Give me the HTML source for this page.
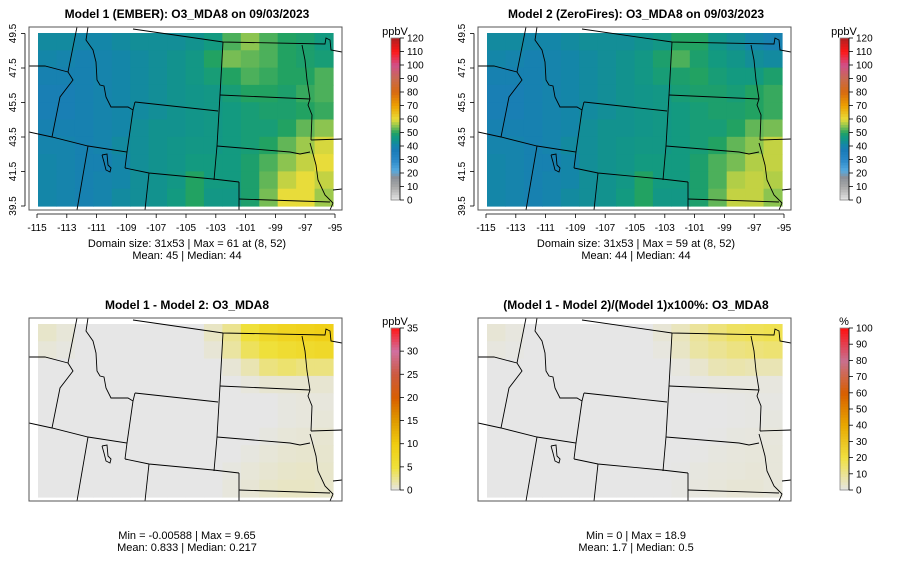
<!DOCTYPE html>
<html><head><meta charset="utf-8">
<style>
html,body{margin:0;padding:0;background:#fff;}
svg{display:block;font-family:"Liberation Sans",sans-serif;}
</style></head>
<body>
<svg id="fig" width="900" height="579" viewBox="0 0 900 579" xmlns="http://www.w3.org/2000/svg"></svg>
<script>
// ---- data (rows from north 49.5 to south 39.5, cols from -115 to -95) ----
const model1 = [
[42,42,41,41,42,43,43,43,44,47,52,55,52,50,49,47],
[41,40,39,40,41,42,43,44,46,50,54,53,52,50,49,48],
[39,39,39,40,41,42,43,44,46,48,50,52,51,50,50,52],
[38,38,39,40,41,42,43,44,45,46,48,50,50,49,51,52],
[38,38,39,40,41,42,43,44,45,46,47,48,49,49,50,51],
[39,39,39,40,41,43,44,44,45,46,47,48,48,50,53,55],
[40,40,39,40,42,43,44,45,46,46,47,48,50,53,56,59],
[41,40,39,39,41,43,44,45,47,47,47,49,52,55,58,60],
[41,40,39,40,41,43,44,46,50,47,47,49,53,58,60,58],
[41,40,39,40,42,43,44,47,50,46,46,49,54,60,60,56]];
const model2 = [
[42,42,41,41,42,43,43,43,44,46,50,50,45,43,41,39],
[41,40,39,40,41,42,43,44,46,49,52,49,47,45,43,42],
[39,39,39,40,41,42,43,44,46,48,49,50,48,47,47,49],
[38,38,39,40,41,42,43,44,45,46,48,49,49,48,50,51],
[38,38,39,40,41,42,43,44,45,46,47,48,49,49,50,51],
[39,39,39,40,41,43,44,44,45,46,47,48,48,50,53,54],
[40,40,39,40,42,43,44,45,46,46,47,48,50,53,55,58],
[41,40,39,39,41,43,44,45,47,47,47,49,52,54,57,58],
[41,40,39,40,41,43,44,46,50,47,47,49,52,57,58,57],
[41,40,39,40,42,43,44,47,50,46,46,49,53,58,58,55]];
const diffVals = [
[0.8,0.4,0,0,0,0,0,0,0,1,2.5,5,7,8,8.5,9],
[0.4,0.2,0,0,0,0,0,0,0,0.5,2,4,5,6,6.5,7],
[0,0,0,0,0,0,0,0,0,0,0.5,1.5,3,3.5,3,3],
[0,0,0,0,0,0,0,0,0,0,0,0.3,0.6,0.6,0.6,0.6],
[0,0,0,0,0,0,0,0,0,0,0,0,0,0.2,0.3,0.3],
[0,0,0,0,0,0,0,0,0,0,0,0,0,0.2,0.3,0.4],
[0,0,0,0,0,0,0,0,0,0,0,0,0.2,0.4,0.5,0.6],
[0,0,0,0,0,0,0,0,0,0,0,0.2,0.4,0.6,0.7,0.7],
[0,0,0,0,0,0,0,0,0,0,0.2,0.4,0.6,0.8,0.9,0.8],
[0,0,0,0,0,0,0,0,0,0,0.3,0.5,0.8,1,1,0.8]];
const pctVals = [
[2,1,0,0,0,0,0,0,0,2,5,9,13,16,17,18],
[1,0.5,0,0,0,0,0,0,0,1,4,8,10,12,13,14],
[0,0,0,0,0,0,0,0,0,0,1,3,6,7,6,6],
[0,0,0,0,0,0,0,0,0,0,0,0.5,1,1,1,1],
[0,0,0,0,0,0,0,0,0,0,0,0,0,0.3,0.5,0.5],
[0,0,0,0,0,0,0,0,0,0,0,0,0,0.3,0.5,0.8],
[0,0,0,0,0,0,0,0,0,0,0,0,0.3,0.8,1,1.2],
[0,0,0,0,0,0,0,0,0,0,0,0.3,0.8,1.2,1.5,1.5],
[0,0,0,0,0,0,0,0,0,0,0.3,0.8,1.2,1.5,1.8,1.5],
[0,0,0,0,0,0,0,0,0,0,0.5,1,1.5,2,2,1.5]];
const lonTicks = [-115,-113,-111,-109,-107,-105,-103,-101,-99,-97,-95];
const latTicks = [49.5,47.5,45.5,43.5,41.5,39.5];
const o3Ticks = [0,10,20,30,40,50,60,70,80,90,100,110,120];
const diffTicks = [0,5,10,15,20,25,30,35];
const pctTicks = [0,10,20,30,40,50,60,70,80,90,100];

const o3Stops=[[0,'#e6e6e6'],[10,'#a8a8a8'],[17,'#8a9098'],[22,'#55aae0'],[30,'#2a88c8'],[37,'#1a7cb8'],[41,'#1486a8'],[44,'#12928e'],[47,'#139a80'],[50,'#22a262'],[55,'#8cc450'],[60,'#e8dc3a'],[70,'#eea000'],[80,'#d86a10'],[90,'#c86a50'],[100,'#d0508a'],[110,'#ff1818'],[120,'#b02020']];
const diffStops=[[0,'#e6e6e6'],[5,'#efe03a'],[10,'#f0cc10'],[15,'#e09a00'],[20,'#d85e00'],[25,'#cc5a40'],[30,'#d070a0'],[35,'#ff1818']];
const pctStops=[[0,'#e6e6e6'],[20,'#f0e040'],[40,'#e8a800'],[60,'#d85e00'],[80,'#c87090'],[100,'#ff1010']];

const NS='http://www.w3.org/2000/svg';
const svg=document.getElementById('fig');
function mk(tag,attrs,parent){const e=document.createElementNS(NS,tag);for(const k in attrs)e.setAttribute(k,attrs[k]);(parent||svg).appendChild(e);return e;}
function hex(c){return [parseInt(c.substr(1,2),16),parseInt(c.substr(3,2),16),parseInt(c.substr(5,2),16)];}
function cmap(stops,v){
  if(v<=stops[0][0])return stops[0][1];
  for(let i=1;i<stops.length;i++){if(v<=stops[i][0]){const a=stops[i-1],b=stops[i];const t=(v-a[0])/(b[0]-a[0]);const A=hex(a[1]),B=hex(b[1]);return 'rgb('+A.map((x,j)=>Math.round(x+(B[j]-x)*t)).join(',')+')';}}
  return stops[stops.length-1][1];
}
const borders=[
[[133,29],[223,42],[325,44],[326,38],[330,40],[331,50],[342,52]],
[[77,27],[68,72],[73,80],[60,97],[52,137]],
[[29,66],[45,66],[68,72]],
[[88,27],[86,40],[93,50],[96,62],[97,80],[100,85],[104,86],[106,97],[111,107],[120,107],[128,107],[133,110]],
[[135,102],[133,110],[127,152]],
[[29,132],[52,137],[88,146],[127,152],[125,168]],
[[135,102],[218,111]],
[[125,168],[149,173],[213,179],[239,182]],
[[223,42],[220,95],[217,146],[214,180]],
[[88,146],[77,210]],[[149,173],[145,210]],[[239,182],[239,210]],
[[220,95],[310,99]],
[[302,45],[305,60],[307,80],[310,99]],
[[310,99],[308,105],[312,115],[311,140]],
[[311,140],[342,139]],
[[217,146],[290,152],[300,154],[310,152]],
[[310,143],[312,150],[316,165],[318,180],[325,195],[333,203],[330,210]],
[[239,199],[330,202]],
[[333,190],[342,189]],
[[102,155],[107,154],[108,165],[111,168],[110,172],[106,170],[104,162],[102,155]]];

let clipId=0;
function panel(dx,dy,grid,stops,title,axes,name){
  const g=mk('g',{transform:'translate('+dx+','+dy+')'});
  
  
  const t=mk('text',{x:187,y:18,'text-anchor':'middle','font-size':'12','font-weight':'bold',fill:'#000'},g);t.textContent=title;
  
  
  const x0=38,x1=333,y0=33,y1=206;
  const rows=grid.length,cols=grid[0].length;
  const cw=(x1-x0)/cols,ch=(y1-y0)/rows;
  grid.forEach((row,r)=>row.forEach((v,c)=>{
    const cell=mk('rect',{x:x0+c*cw,y:y0+r*ch,width:cw+0.6,height:ch+0.6,fill:cmap(stops,v)},g);
    
    
  }));
  const id='clip'+(clipId++);
  const cp=mk('clipPath',{id:id},g);mk('rect',{x:29,y:27,width:313,height:183},cp);
  const bg=mk('g',{'clip-path':'url(#'+id+')'},g);
  
  
  borders.forEach(b=>{mk('polyline',{points:b.map(p=>p.join(',')).join(' '),fill:'none',stroke:'#000','stroke-width':'0.9'},bg);});
  const box=mk('rect',{x:29,y:27,width:313,height:183,fill:'none',stroke:'#555','stroke-width':'1'},g);
  
  
  if(axes){
    const lx=v=>37+(v+115)*14.9, ly=v=>33.5+(49.5-v)*17.25;
    mk('line',{x1:lx(-115),x2:lx(-95),y1:214,y2:214,stroke:'#000','stroke-width':'0.8'},g);
    lonTicks.forEach(v=>{mk('line',{x1:lx(v),x2:lx(v),y1:214,y2:218,stroke:'#000','stroke-width':'0.8'},g);
      const tl=mk('text',{x:lx(v),y:231,'text-anchor':'middle','font-size':'10',fill:'#000'},g);tl.textContent=v;
      
      });
    mk('line',{x1:25,x2:25,y1:ly(49.5),y2:ly(39.5),stroke:'#000','stroke-width':'0.8'},g);
    latTicks.forEach(v=>{mk('line',{x1:21,x2:25,y1:ly(v),y2:ly(v),stroke:'#000','stroke-width':'0.8'},g);
      const tl=mk('text',{x:0,y:0,'text-anchor':'middle','font-size':'10',fill:'#000',transform:'translate(16,'+ly(v)+') rotate(-90)'},g);tl.textContent=v.toFixed(1);
      
      });
  }
  return g;
}
function colorbar(x,y0,y1,stops,ticks,unit,name){
  const g=mk('g',{});
  
  
  const max=ticks[ticks.length-1];const n=60;
  for(let i=0;i<n;i++){const v=(i+0.5)/n*max;const yy=y1-(i+1)/n*(y1-y0);
    mk('rect',{x:x,y:yy,width:9,height:(y1-y0)/n+0.5,fill:cmap(stops,v)},g);}
  mk('rect',{x:x,y:y0,width:9,height:y1-y0,fill:'none',stroke:'#888','stroke-width':'0.8'},g);
  mk('line',{x1:x+9,x2:x+9,y1:y0,y2:y1,stroke:'#000','stroke-width':'0.8'},g);
  ticks.forEach(v=>{const yy=y1-v/max*(y1-y0);
    mk('line',{x1:x+9,x2:x+13,y1:yy,y2:yy,stroke:'#000','stroke-width':'0.8'},g);
    const t=mk('text',{x:x+16,y:yy+3.5,'font-size':'10',fill:'#000'},g);t.textContent=v;
    
    });
  const u=mk('text',{x:x+4,y:y0-3,'text-anchor':'middle','font-size':'11',fill:'#000'},g);u.textContent=unit;
  
  
}
function caption(x,y,lines,name){
  lines.forEach((s,i)=>{const t=mk('text',{x:x,y:y+i*12,'text-anchor':'middle','font-size':'11',fill:'#000'});t.textContent=s;
    
    });
}
panel(0,0,model1,o3Stops,'Model 1 (EMBER): O3_MDA8 on 09/03/2023',true,'panel-model1');
panel(449,0,model2,o3Stops,'Model 2 (ZeroFires): O3_MDA8 on 09/03/2023',true,'panel-model2');
panel(0,291,diffVals,diffStops,'Model 1 - Model 2: O3_MDA8',false,'panel-difference');
panel(449,291,pctVals,pctStops,'(Model 1 - Model 2)/(Model 1)x100%: O3_MDA8',false,'panel-percent-difference');
colorbar(391,38,200,o3Stops,o3Ticks,'ppbV','colorbar-model1');
colorbar(840,38,200,o3Stops,o3Ticks,'ppbV','colorbar-model2');
colorbar(391,328,490,diffStops,diffTicks,'ppbV','colorbar-difference');
colorbar(840,328,490,pctStops,pctTicks,'%','colorbar-percent');
caption(187,247,['Domain size: 31x53 | Max = 61 at (8, 52)','Mean: 45 |  Median: 44'],'stats-model1');
caption(636,247,['Domain size: 31x53 | Max = 59 at (8, 52)','Mean: 44 |  Median: 44'],'stats-model2');
caption(187,539,['Min = -0.00588 | Max = 9.65','Mean: 0.833 |  Median: 0.217'],'stats-difference');
caption(636,539,['Min = 0 | Max = 18.9','Mean: 1.7 |  Median: 0.5'],'stats-percent');
</script>
</body></html>
